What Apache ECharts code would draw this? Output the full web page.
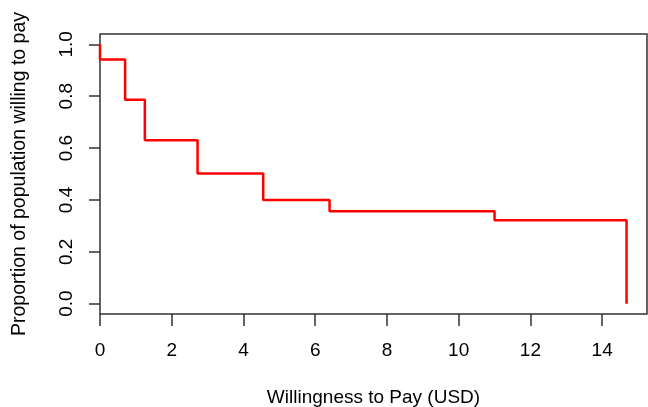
<!DOCTYPE html>
<html>
<head>
<meta charset="utf-8">
<script src="https://cdn.jsdelivr.net/npm/echarts@6/dist/echarts.min.js"></script>
<style>
  html, body { margin: 0; padding: 0; background: #fff; }
  #chart { width: 648px; height: 407px; }
</style>
</head>
<body>
<div id="chart"></div>
<script>
// step points of the curve (x = willingness to pay, y = proportion)
var wtpBreaks = [0, 0, 0.70, 1.25, 2.72, 4.55, 6.40, 11.0, 14.68];
var proportions = [1.0, 0.942, 0.786, 0.630, 0.502, 0.400, 0.356, 0.322, 0.0];
var xTicks = [0, 2, 4, 6, 8, 10, 12, 14];
var yTicks = [0, 0.2, 0.4, 0.6, 0.8, 1.0];

var font = 'Liberation Sans, Arial, sans-serif';

function EchartsStep(item) {
    this.myChart = echarts.init(item);
    var points = [];
    for (var i = 0; i < wtpBreaks.length; i++) {
        points.push([wtpBreaks[i], proportions[i]]);
    }
    this.option = {
        backgroundColor: '#FFFFFF',
        animation: false,
        grid: {
            left: 100,
            right: 1,
            top: 34,
            bottom: 93,
            outerBoundsMode: 'none',
            containLabel: false,
            show: true,
            borderColor: '#333',
            borderWidth: 1.5,
            backgroundColor: 'transparent'
        },
        xAxis: {
            type: 'value',
            min: 0,
            max: 15.25,
            name: 'Willingness to Pay (USD)',
            nameLocation: 'middle',
            nameGap: 74,
            nameTextStyle: { fontFamily: font, fontSize: 19, color: '#000' },
            axisLine: { show: false, onZero: false },
            splitLine: { show: false },
            axisTick: {
                show: true, inside: false, length: 12, customValues: xTicks,
                lineStyle: { color: '#333', width: 1.5 }
            },
            axisLabel: {
                customValues: xTicks, margin: 27,
                fontFamily: font, fontSize: 19, color: '#000',
                showMinLabel: true, showMaxLabel: true
            }
        },
        yAxis: {
            type: 'value',
            min: -0.04,
            max: 1.04,
            name: 'Proportion of population willing to pay',
            nameLocation: 'middle',
            nameGap: 70,
            nameTextStyle: { fontFamily: font, fontSize: 19.5, color: '#000' },
            axisLine: { show: false, onZero: false },
            splitLine: { show: false },
            axisTick: {
                show: true, inside: false, length: 11, customValues: yTicks,
                lineStyle: { color: '#333', width: 1.5 }
            },
            axisLabel: {
                customValues: yTicks, margin: 24, rotate: 90,
                fontFamily: font, fontSize: 19, color: '#000',
                formatter: function (v) { return v.toFixed(1); }
            }
        },
        series: [{
            type: 'line',
            step: 'end',
            showSymbol: false,
            clip: false,
            lineStyle: { color: '#ff0000', width: 2.5 },
            data: points
        }]
    };
    this.myChart.setOption(this.option);
}

var stepChart = new EchartsStep(document.getElementById('chart'));
</script>
</body>
</html>
